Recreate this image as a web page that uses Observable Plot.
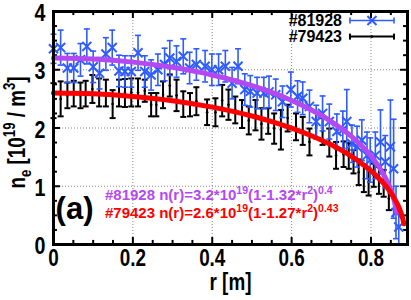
<!DOCTYPE html>
<html><head><meta charset="utf-8">
<script src="https://cdn.jsdelivr.net/npm/d3@7"></script>
<script src="https://cdn.jsdelivr.net/npm/@observablehq/plot@0.6"></script>
<style>body{margin:0;background:#fff;} svg{display:block;}</style>
</head><body><div id="chart"></div>
<script>
// ---- data ----
const shotA = "#81928";
const shotB = "#79423";
const blueR = [0.000,0.018,0.035,0.051,0.068,0.084,0.100,0.116,0.132,0.148,0.165,0.180,0.196,0.213,0.230,0.246,0.263,0.280,0.293,0.310,0.327,0.343,0.360,0.382,0.399,0.416,0.433,0.450,0.465,0.482,0.496,0.513,0.530,0.543,0.560,0.577,0.598,0.615,0.628,0.645,0.662,0.678,0.695,0.714,0.729,0.739,0.752,0.765,0.777,0.790,0.798,0.811,0.824,0.836,0.849,0.857,0.863,0.870];
const blueV = [3.36,3.38,3.03,3.03,3.17,3.40,3.05,2.94,3.27,3.38,2.98,2.97,2.97,3.29,2.97,2.91,3.00,3.09,3.20,3.14,3.23,3.03,3.09,3.06,3.00,3.00,3.06,2.77,3.06,2.66,2.63,2.60,2.60,2.62,2.57,2.45,2.66,2.54,2.51,2.37,2.11,2.25,2.11,1.94,1.97,2.11,1.73,1.68,1.79,1.53,1.45,1.53,1.76,1.42,1.68,1.30,0.55,0.30];
const blueE = [0.25,0.30,0.25,0.25,0.28,0.30,0.27,0.27,0.28,0.30,0.27,0.27,0.27,0.30,0.27,0.26,0.27,0.28,0.30,0.27,0.30,0.27,0.27,0.27,0.27,0.27,0.27,0.27,0.30,0.27,0.27,0.27,0.27,0.27,0.27,0.27,0.30,0.27,0.28,0.28,0.28,0.30,0.30,0.30,0.32,0.55,0.32,0.35,0.35,0.40,0.38,0.40,0.55,0.45,0.80,0.85,0.45,0.30];
const blackR = [0.000,0.018,0.035,0.051,0.068,0.081,0.098,0.115,0.132,0.149,0.165,0.180,0.196,0.213,0.230,0.246,0.259,0.276,0.293,0.310,0.327,0.344,0.360,0.387,0.408,0.425,0.441,0.458,0.475,0.492,0.509,0.524,0.541,0.556,0.573,0.590,0.611,0.628,0.645,0.662,0.678,0.695,0.712,0.731,0.744,0.756,0.769,0.782,0.794,0.807,0.820,0.832,0.845];
const blackV = [2.47,2.50,2.56,2.59,2.56,2.59,2.67,2.61,2.60,2.41,2.60,2.60,2.61,2.61,2.64,2.40,2.40,2.57,2.73,2.56,2.41,2.40,2.46,2.27,2.27,2.47,2.40,2.31,2.24,2.13,2.22,2.07,2.12,1.99,1.97,2.17,2.02,1.95,1.76,2.04,1.94,1.75,1.53,1.55,1.52,1.42,1.24,1.13,1.07,1.19,1.10,1.05,0.79];
const blackE = [0.30,0.30,0.22,0.22,0.22,0.22,0.24,0.24,0.23,0.24,0.23,0.24,0.24,0.24,0.19,0.20,0.20,0.23,0.19,0.27,0.22,0.20,0.24,0.22,0.24,0.27,0.26,0.23,0.24,0.24,0.26,0.27,0.22,0.26,0.34,0.23,0.23,0.24,0.23,0.22,0.23,0.24,0.23,0.22,0.22,0.20,0.22,0.23,0.23,0.20,0.23,0.23,0.20];
// fitted profiles as drawn
const fitAR = [0,0.1,0.2,0.3,0.4,0.5,0.55,0.6,0.65,0.7,0.75,0.78,0.8,0.82,0.84,0.85,0.86,0.865];
const fitAV = [3.2,3.183,3.131,3.042,2.910,2.726,2.610,2.473,2.309,2.110,1.860,1.670,1.519,1.335,1.096,0.936,0.717,0.552];
const fitBR = [0,0.1,0.2,0.3,0.4,0.5,0.55,0.6,0.65,0.7,0.75,0.78,0.8,0.82,0.84,0.86,0.87,0.88,0.883];
const fitBV = [2.6,2.586,2.542,2.468,2.358,2.206,2.111,1.999,1.868,1.711,1.517,1.375,1.265,1.137,0.982,0.779,0.643,0.445,0.356];
// ticks
const xMajor = [0,0.2,0.4,0.6,0.8];
const xLabels = ["0","0.2","0.4","0.6","0.8"];
const xMinor = [0.05,0.1,0.15,0.25,0.3,0.35,0.45,0.5,0.55,0.65,0.7,0.75,0.85];
const yMajor = [0,1,2,3,4];
const yLabels = ["0","1","2","3","4"];
const yMinor = [0.25,0.5,0.75,1.25,1.5,1.75,2.25,2.5,2.75,3.25,3.5,3.75];
const xGrid = [0.2,0.4,0.6,0.8];
const yGrid = [1,2,3];

const BLUE = "#2f5cff", PURPLE = "#b548f2", RED = "#ff0000";
const FONT = "'Liberation Sans', Arial, sans-serif";
const SQUEEZE = 0.82; // the reference's axis text is horizontally condensed

const blue = blueR.map((r,i)=>({r, v: blueV[i], e: blueE[i]}));
const black = blackR.map((r,i)=>({r, v: blackV[i], e: blackE[i]}));
const fitA = fitAR.map((r,i)=>({r, v: fitAV[i]}));
const fitB = fitBR.map((r,i)=>({r, v: fitBV[i]}));

const capH = {draw(ctx, size){ const w = Math.sqrt(size/Math.PI); ctx.moveTo(-w,0); ctx.lineTo(w,0); }};
const capV = {draw(ctx, size){ const w = Math.sqrt(size/Math.PI); ctx.moveTo(0,-w); ctx.lineTo(0,w); }};

const XMAX = 0.892;
const tkY = 0.12, tkYm = 0.07, tkX = 0.018, tkXm = 0.01;

const plot = Plot.plot({
  width: 411, height: 300,
  marginLeft: 53, marginRight: 4, marginTop: 11, marginBottom: 56,
  x: {domain: [0, XMAX], axis: null},
  y: {domain: [0, 4], axis: null},
  style: {fontFamily: FONT, fontWeight: "bold", background: "#fff"},
  marks: [
    Plot.ruleX(xGrid, {x: d=>d, stroke: "#888", strokeDasharray: "1,2", strokeWidth: 1}),
    Plot.ruleY(yGrid, {y: d=>d, stroke: "#888", strokeDasharray: "1,2", strokeWidth: 1}),
    Plot.ruleX(xMajor, {x: d=>d, y1: 0, y2: tkY, stroke: "#000", strokeWidth: 2}),
    Plot.ruleX(xMajor, {x: d=>d, y1: 4 - tkY, y2: 4, stroke: "#000", strokeWidth: 2}),
    Plot.ruleX(xMinor, {x: d=>d, y1: 0, y2: tkYm, stroke: "#000", strokeWidth: 2}),
    Plot.ruleX(xMinor, {x: d=>d, y1: 4 - tkYm, y2: 4, stroke: "#000", strokeWidth: 2}),
    Plot.ruleY(yMajor, {y: d=>d, x1: 0, x2: tkX, stroke: "#000", strokeWidth: 2}),
    Plot.ruleY(yMajor, {y: d=>d, x1: XMAX - tkX, x2: XMAX, stroke: "#000", strokeWidth: 2}),
    Plot.ruleY(yMinor, {y: d=>d, x1: 0, x2: tkXm, stroke: "#000", strokeWidth: 2}),
    Plot.ruleY(yMinor, {y: d=>d, x1: XMAX - tkXm, x2: XMAX, stroke: "#000", strokeWidth: 2}),
    // black data (#79423)
    Plot.ruleX(black, {x: "r", y1: d=>d.v-d.e, y2: d=>d.v+d.e, stroke: "#000", strokeWidth: 2}),
    Plot.dot(black, {x: "r", y: d=>d.v-d.e, symbol: capH, r: 3, stroke: "#000", strokeWidth: 2, fill: "none"}),
    Plot.dot(black, {x: "r", y: d=>d.v+d.e, symbol: capH, r: 3, stroke: "#000", strokeWidth: 2, fill: "none"}),
    Plot.dot(black, {x: "r", y: "v", r: 1.3, fill: "#000"}),
    // blue data (#81928)
    Plot.ruleX(blue, {x: "r", y1: d=>Math.max(0, d.v-d.e), y2: d=>d.v+d.e, stroke: BLUE, strokeWidth: 1.6}),
    Plot.dot(blue, {x: "r", y: d=>d.v-d.e, symbol: capH, r: 3, stroke: BLUE, strokeWidth: 1.6, fill: "none"}),
    Plot.dot(blue, {x: "r", y: d=>d.v+d.e, symbol: capH, r: 3, stroke: BLUE, strokeWidth: 1.6, fill: "none"}),
    Plot.dot(blue, {x: "r", y: "v", symbol: "times", r: 4.2, stroke: BLUE, strokeWidth: 2}),
    // fits
    Plot.line(fitA, {x: "r", y: "v", stroke: PURPLE, strokeWidth: 5, curve: "monotone-x"}),
    Plot.line(fitB, {x: "r", y: "v", stroke: RED, strokeWidth: 5, curve: "monotone-x"}),
    Plot.frame({stroke: "#000", strokeWidth: 3}),
    // tick labels and axis title
    Plot.text(xMajor, {x: d=>d, y: 0, text: (d,i)=>xLabels[i], dy: 14, fontSize: 23, fill: "#000"}),
    Plot.text(yMajor, {x: 0, y: d=>d, text: (d,i)=>yLabels[i], dx: -8, dy: 2, textAnchor: "end", fontSize: 24, fill: "#000"}),
    Plot.text(["r [m]"], {frameAnchor: "bottom", dy: 45, fontSize: 23, fill: "#000"}),
    Plot.text(["(a)"], {frameAnchor: "bottom-left", dx: 21, dy: -26, fontSize: 31, fill: "#000", textAnchor: "middle"}),
    // legend
    Plot.text([shotA], {x: 0.727, y: 3.845, textAnchor: "end", fontSize: 16, fill: "#000"}),
    Plot.text([shotB], {x: 0.727, y: 3.569, textAnchor: "end", fontSize: 16, fill: "#000"}),
    Plot.link([0], {x1: 0.747, x2: 0.858, y1: 3.845, y2: 3.845, stroke: BLUE, strokeWidth: 1.6}),
    Plot.dot([0.747, 0.858], {x: d=>d, y: 3.845, symbol: capV, r: 3, stroke: BLUE, strokeWidth: 1.6, fill: "none"}),
    Plot.dot([0.8025], {x: d=>d, y: 3.845, symbol: "times", r: 4.2, stroke: BLUE, strokeWidth: 2}),
    Plot.link([0], {x1: 0.747, x2: 0.858, y1: 3.569, y2: 3.569, stroke: "#000", strokeWidth: 2}),
    Plot.dot([0.747, 0.858], {x: d=>d, y: 3.569, symbol: capV, r: 3, stroke: "#000", strokeWidth: 2, fill: "none"}),
    Plot.dot([0.8025], {x: d=>d, y: 3.569, r: 1.3, fill: "#000"})
  ]
});
document.getElementById("chart").appendChild(plot);

const sx = plot.scale("x"), sy = plot.scale("y");
const svg = d3.select(plot);

// condense the large axis texts horizontally, as in the reference
svg.selectAll("text").each(function() {
  const fs = getComputedStyle(this).fontSize;
  if (fs === "24px" || fs === "23px") {
    const L = this.getComputedTextLength();
    this.setAttribute("textLength", (L * SQUEEZE).toFixed(2));
    this.setAttribute("lengthAdjust", "spacingAndGlyphs");
  }
});

// texts with super/subscripts
function rich(g, parts, size) {
  let shift = 0;
  for (const [t, kind] of parts) {
    const ts = g.append("tspan").text(t);
    const want = kind === "sup" ? -size*0.42 : kind === "sub" ? size*0.25 : 0;
    if (kind) ts.attr("font-size", size*0.7);
    ts.attr("dy", want - shift);
    shift = want;
  }
}
const ann = [
  {color: PURPLE, r: 0.131, y: 200, parts: [[shotA + " n(r)=3.2*10"],["19","sup"],["(1-1.32*r"],["2","sup"],[")"],["0.4","sup"]]},
  {color: RED, r: 0.131, y: 218, parts: [[shotB + " n(r)=2.6*10"],["19","sup"],["(1-1.27*r"],["2","sup"],[")"],["0.43","sup"]]}
];
for (const a of ann) {
  const g = svg.append("text").attr("x", sx.apply(a.r)).attr("y", a.y)
    .attr("text-anchor", "start")
    .attr("fill", a.color).attr("font-size", 15).attr("font-weight", "bold")
    .attr("font-family", FONT);
  rich(g, a.parts, 15);
}
const cy = (sy.apply(0) + sy.apply(4)) / 2 + 5;
const ylg = svg.append("g").attr("transform", `translate(25,${cy}) rotate(-90) scale(${SQUEEZE},1)`);
const yl = ylg.append("text")
  .attr("x", 0).attr("y", 0)
  .attr("text-anchor", "start").attr("fill", "#000").attr("font-size", 23).attr("font-weight", "bold")
  .attr("font-family", FONT);
rich(yl, [["n"],["e","sub"],[" [10"],["19","sup"],[" / m"],["3","sup"],["]"]], 23);
const len = yl.node().getComputedTextLength();
yl.attr("x", -len / 2);
</script>
</body></html>
